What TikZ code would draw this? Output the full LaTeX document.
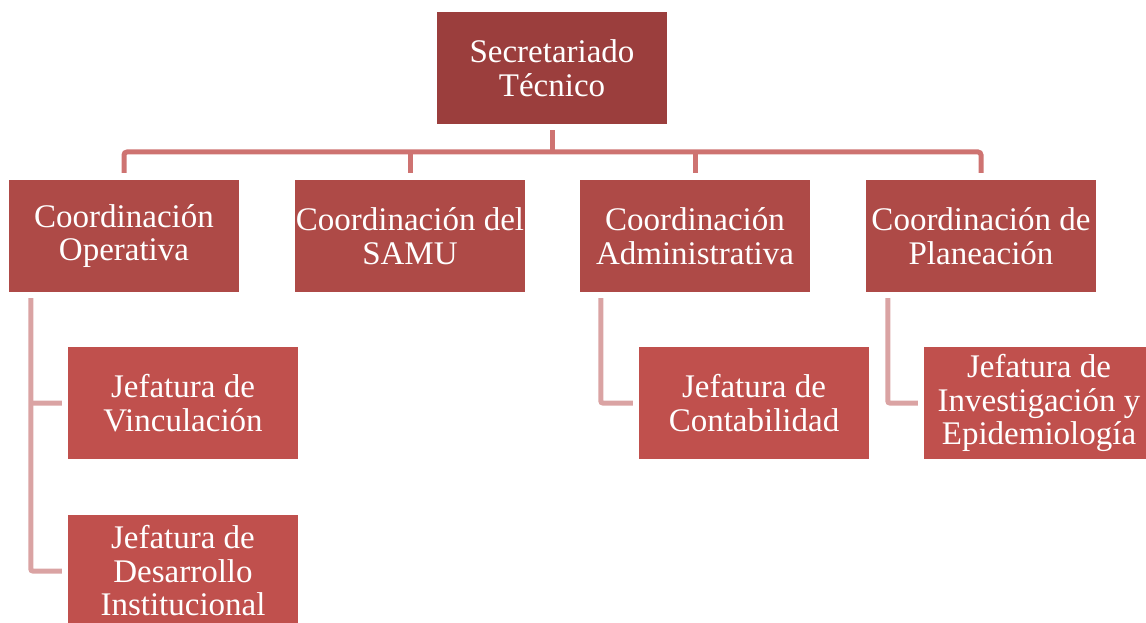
\documentclass[tikz,border=0pt]{standalone}
\usepackage{fontspec}
\setmainfont{Liberation Serif}
\usetikzlibrary{calc}
\definecolor{topc}{HTML}{9B3E3D}
\definecolor{midc}{HTML}{AE4A47}
\definecolor{lowc}{HTML}{C0504D}
\definecolor{linea}{HTML}{CE7371}
\definecolor{lineb}{HTML}{DAA3A3}
\tikzset{
  box/.style={rectangle, minimum width=230pt, minimum height=112pt, inner sep=0pt,
    align=center, text=white, font=\fontsize{33}{33.5}\selectfont},
  topbox/.style={box, fill=topc},
  midbox/.style={box, fill=midc},
  lowbox/.style={box, fill=lowc},
  conna/.style={draw=linea, line width=5pt, rounded corners=3pt},
  connb/.style={draw=lineb, line width=5pt, rounded corners=2pt}
}
\begin{document}
\begin{tikzpicture}[x=1pt,y=-1pt]
\useasboundingbox (0,0) rectangle (1146,623);
\begin{scope}
\clip (0,0) rectangle (1146,623);
\node[topbox] (top) at (552,68) {Secretariado\\Técnico};
\node[midbox] (c1) at (124,236) {Coordinación\\Operativa};
\node[midbox] (c2) at (410,236) {Coordinación del\\SAMU};
\node[midbox] (c3) at (695,236) {Coordinación\\Administrativa};
\node[midbox] (c4) at (981,236) {Coordinación de\\Planeación};
\node[lowbox] (j1) at (183,403) {Jefatura de\\Vinculación};
\node[lowbox] (j2) at (183,571) {Jefatura de\\Desarrollo\\Institucional};
\node[lowbox] (j3) at (754,403) {Jefatura de\\Contabilidad};
\node[lowbox] (j4) at (1039,403) {Jefatura de\\Investigación y\\Epidemiología};
\coordinate (bar) at (552,152);
\draw[conna] ($(top.south)+(0,6)$) -- (top.south |- bar);
\draw[conna] ($(c1.north)+(0,-7)$) |- (bar) -| ($(c4.north)+(0,-7)$);
\draw[conna] ($(c2.north)+(0,-7)$) -- (c2.north |- bar);
\draw[conna] ($(c3.north)+(0,-7)$) -- (c3.north |- bar);
\draw[connb] ($(c1.south west)+(22,6)$) |- ($(j2.west)+(-6,0)$);
\draw[connb] ($(c1.south west)+(22,111)$) -- ($(j1.west)+(-6,0)$);
\draw[connb] ($(c3.south west)+(21,6)$) |- ($(j3.west)+(-6,0)$);
\draw[connb] ($(c4.south west)+(22,6)$) |- ($(j4.west)+(-6,0)$);
\end{scope}
\end{tikzpicture}
\end{document}
